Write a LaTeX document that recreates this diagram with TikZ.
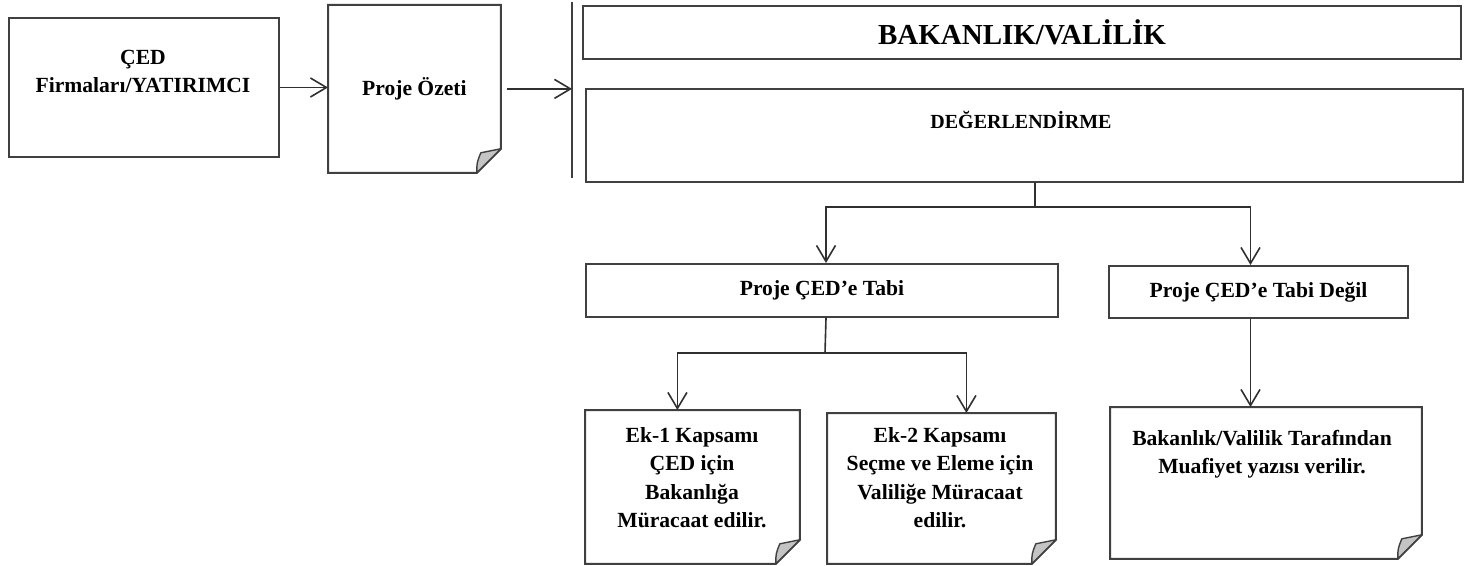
\documentclass[tikz,border=0pt]{standalone}
\usepackage{fontspec}
\setmainfont{Liberation Serif}
\usepackage{tikz}
\usetikzlibrary{positioning,arrows.meta,calc}
\definecolor{boxgray}{HTML}{404040}
\definecolor{linegray}{HTML}{303030}
\definecolor{foldgray}{HTML}{C4C4C4}
\tikzset{
    box/.style = {
        draw=boxgray,
        shape=rectangle,
        inner sep=0pt,
        line width=1pt,
        anchor=north west
    },
    notebase/.style = {
        shape=rectangle,
        inner sep=0pt,
        anchor=north west
    },
    boxline/.style = {
        draw=boxgray,
        line width=1pt
    },
    foldline/.style = {
        draw=boxgray,
        fill=foldgray,
        line width=0.7pt,
        line join=round
    },
    conn/.style = {
        draw=linegray,
        line width=0.8pt
    },
    txt/.style = {
        align=center,
        inner sep=0pt,
        font=\fontsize{10.8}{14.25}\selectfont\bfseries
    },
    >={Straight Barb[length=8pt,width=9.5pt]},
}
% outline of a box with a folded lower right corner
\newcommand{\notebox}[1]{%
    \path[boxline] (#1.north west) -- (#1.north east) -- ([yshift=12pt]#1.south east)
        -- ([xshift=-12pt]#1.south east) -- (#1.south west) -- cycle;
    \path[foldline] ([xshift=-12pt]#1.south east)
        .. controls ([xshift=-12pt,yshift=5pt]#1.south east) .. ([xshift=-10pt,yshift=10pt]#1.south east)
        .. controls ([xshift=-5pt,yshift=11pt]#1.south east) .. ([yshift=12pt]#1.south east) -- cycle;
}

\begin{document}
\begin{tikzpicture}[x=0.5pt, y=-0.5pt]
        \useasboundingbox (0,0) rectangle (1465,566);

        % left part
        \node[box, minimum width=135pt, minimum height=69.5pt] (ced) at (8,17) {};
        \node[txt] (ced-t) at (143,71.5) {ÇED\\Firmaları/YATIRIMCI};
        \node[notebase, txt, minimum width=86pt, minimum height=83.5pt] (ozet) at (328,5) {Proje Özeti};
        \notebox{ozet}

        \coordinate (bartop) at (572,2);
        \coordinate (barbot) at (572,178);
        \path[boxline] (bartop) -- (barbot);

        \path[conn, ->] (ced.east) -- (ced.east -| ozet.west);
        \path[conn, ->] ([xshift=3pt]ozet.east) -- (ozet.east -| bartop);

        % ministry side
        \node[box, minimum width=439pt, minimum height=26.5pt,
            font=\fontsize{14.5}{17}\selectfont\bfseries] (bakanlik) at (582,5) {BAKANLIK/VALİLİK};
        \node[box, minimum width=438.5pt, minimum height=46.5pt] (deger) at (585,88) {};
        \node[txt, font=\fontsize{10}{12}\selectfont\bfseries] (deger-t) at (1021,120) {DEĞERLENDİRME};

        \node[box, txt, minimum width=236pt, minimum height=26.5pt] (tabi) at (585,263) {Proje ÇED’e Tabi};
        \node[box, txt, minimum width=149.5pt, minimum height=26pt] (degil) at (1108,265) {Proje ÇED’e Tabi Değil};

        \coordinate (split1) at (1035,207);
        \path[conn] (deger.south -| split1) -- (split1);
        \path[conn, ->] (split1) -| ([xshift=2pt]tabi.north);
        \path[conn, ->] (split1) -| ([xshift=-4pt]degil.north);

        % results
        \node[notebase, minimum width=107pt, minimum height=76.5pt] (ek1) at (585,410) {};
        \notebox{ek1}
        \node[txt] (ek1-t) at (692,477.5) {Ek-1 Kapsamı\\ÇED için\\Bakanlığa\\Müracaat edilir.};
        \node[notebase, minimum width=114pt, minimum height=75pt] (ek2) at (827,413) {};
        \notebox{ek2}
        \node[txt] (ek2-t) at (940,477.5) {Ek-2 Kapsamı\\Seçme ve Eleme için\\Valiliğe Müracaat\\edilir.};
        \node[notebase, minimum width=155.5pt, minimum height=75.5pt] (muaf) at (1110,407) {};
        \notebox{muaf}
        \node[txt] (muaf-t) at (1262,454) {Bakanlık/Valilik Tarafından\\Muafiyet yazısı verilir.};

        \coordinate (split2) at (825,353);
        \path[conn] ([xshift=2pt]tabi.south) -- (split2);
        \path[conn, ->] (split2) -| ([xshift=-7.5pt]ek1.north);
        \path[conn, ->] (split2) -| ([xshift=12.5pt]ek2.north);
        \path[conn, ->] ([xshift=-4pt]degil.south) -- ([xshift=-4pt]degil.south |- muaf.north);
    \end{tikzpicture}
\end{document}
